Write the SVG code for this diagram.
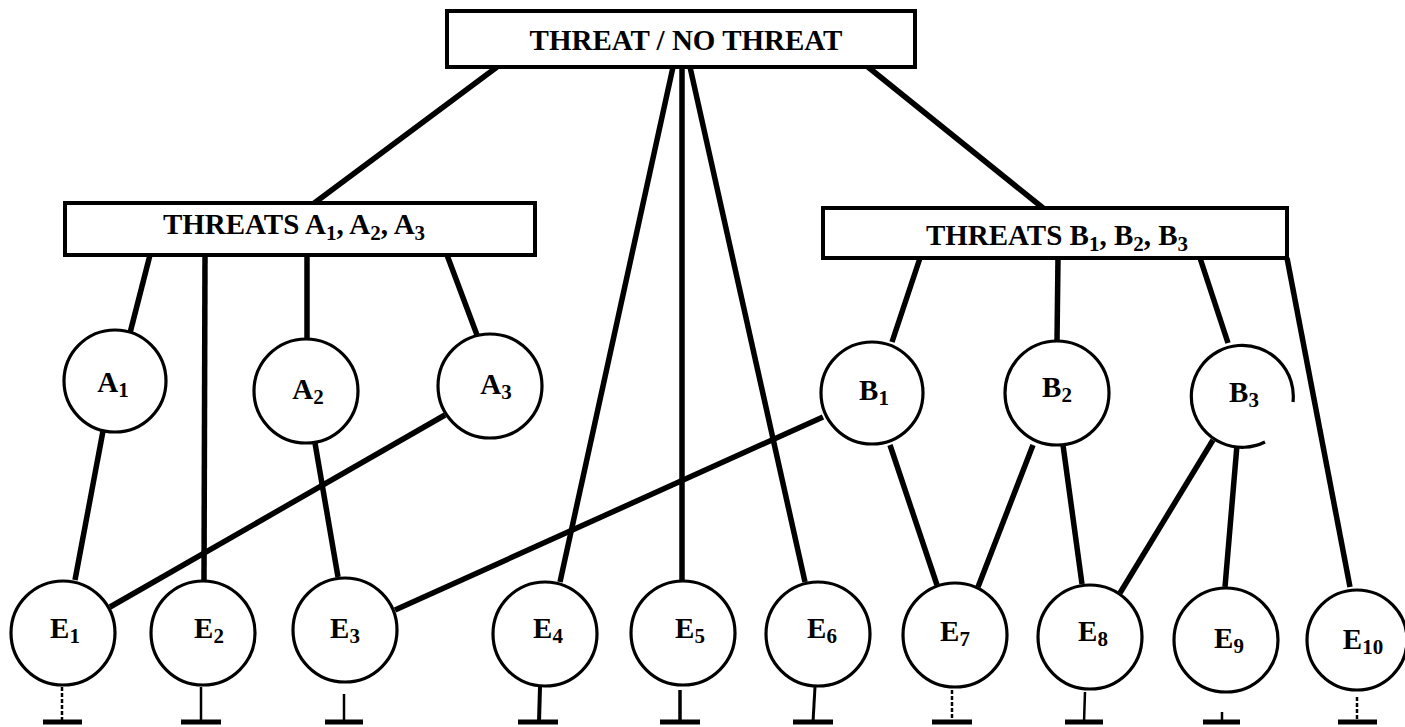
<svg xmlns="http://www.w3.org/2000/svg" width="1405" height="727" viewBox="0 0 1405 727">
<style>
  .box { fill: #fff; stroke: #000; stroke-width: 4; }
  .node { fill: #fff; stroke: #000; stroke-width: 3.2; }
  .conn { stroke: #000; stroke-width: 5.5; stroke-linecap: butt; fill: none; }
  .stem { stroke: #000; stroke-width: 2.5; fill: none; }
  .bar { stroke: #000; stroke-width: 5; fill: none; }
  .bt { font-family: "Liberation Serif", "Times New Roman", serif; font-weight: bold; font-size: 29px; fill: #000; text-anchor: middle; }
  .lt { font-family: "Liberation Serif", "Times New Roman", serif; font-weight: bold; font-size: 29px; fill: #000; text-anchor: middle; }
  .sub { font-size: 21px; }
</style>
<rect width="1405" height="727" fill="#fff"/>
<g id="connectors">
  <line class="conn" x1="497" y1="67" x2="313" y2="204"/>
  <line class="conn" x1="673" y1="67" x2="560" y2="582"/>
  <line class="conn" x1="682" y1="67" x2="682" y2="580"/>
  <line class="conn" x1="690" y1="67" x2="805" y2="582"/>
  <line class="conn" x1="868" y1="67" x2="1043" y2="208"/>
  <line class="conn" x1="150" y1="255" x2="130" y2="333"/>
  <line class="conn" x1="205" y1="255" x2="204" y2="580"/>
  <line class="conn" x1="307" y1="255" x2="307" y2="340"/>
  <line class="conn" x1="447" y1="255" x2="477" y2="335"/>
  <line class="conn" x1="103" y1="431" x2="75" y2="580"/>
  <line class="conn" x1="445" y1="415" x2="110" y2="607"/>
  <line class="conn" x1="315" y1="443" x2="338" y2="577"/>
  <line class="conn" x1="823" y1="417" x2="395" y2="610"/>
  <line class="conn" x1="920" y1="258" x2="892" y2="342"/>
  <line class="conn" x1="1058" y1="258" x2="1057" y2="341"/>
  <line class="conn" x1="1200" y1="258" x2="1228" y2="343"/>
  <line class="conn" x1="1287" y1="258" x2="1350" y2="587"/>
  <line class="conn" x1="890" y1="445" x2="937" y2="585"/>
  <line class="conn" x1="1033" y1="445" x2="978" y2="587"/>
  <line class="conn" x1="1063" y1="445" x2="1082" y2="584"/>
  <line class="conn" x1="1213" y1="440" x2="1120" y2="593"/>
  <line class="conn" x1="1237" y1="445" x2="1225" y2="587"/>
</g>
<g id="grounds">
  <line class="stem" x1="62" y1="687" x2="62" y2="722" stroke-dasharray="4 2"/>
  <line class="bar" x1="43" y1="722" x2="82" y2="722"/>
  <line class="stem" x1="201" y1="687" x2="201" y2="722"/>
  <line class="bar" x1="181" y1="722" x2="221" y2="722"/>
  <line class="stem" x1="344" y1="694" x2="344" y2="722"/>
  <line class="bar" x1="325" y1="722" x2="363" y2="722"/>
  <line class="stem" x1="540" y1="687" x2="539" y2="722" style="stroke-width:4"/>
  <line class="bar" x1="518" y1="722" x2="558" y2="722"/>
  <line class="stem" x1="680" y1="690" x2="680" y2="722" style="stroke-width:3.5"/>
  <line class="bar" x1="660" y1="722" x2="700" y2="722"/>
  <line class="stem" x1="815" y1="687" x2="813" y2="722" style="stroke-width:3"/>
  <line class="bar" x1="793" y1="722" x2="833" y2="722"/>
  <line class="stem" x1="952" y1="690" x2="952" y2="722" stroke-dasharray="4 2"/>
  <line class="bar" x1="932" y1="722" x2="972" y2="722"/>
  <line class="stem" x1="1085" y1="692" x2="1084" y2="722"/>
  <line class="bar" x1="1065" y1="722" x2="1103" y2="722"/>
  <line class="stem" x1="1222" y1="712" x2="1222" y2="722"/>
  <line class="bar" x1="1203" y1="722" x2="1240" y2="722"/>
  <line class="stem" x1="1357" y1="697" x2="1357" y2="722" stroke-dasharray="4 2"/>
  <line class="bar" x1="1338" y1="722" x2="1377" y2="722"/>
</g>
<g id="top">
  <rect class="box" x="447" y="11" width="468" height="56"/>
  <text class="bt" x="686" y="50">THREAT / NO THREAT</text>
</g>
<g id="boxA">
  <rect class="box" x="65" y="203" width="470" height="52"/>
  <text class="bt" x="294" y="234">THREATS A<tspan class="sub" dy="6">1</tspan><tspan dy="-6">, A</tspan><tspan class="sub" dy="6">2</tspan><tspan dy="-6">, A</tspan><tspan class="sub" dy="6">3</tspan></text>
</g>
<g id="boxB">
  <rect class="box" x="823" y="208" width="464" height="50"/>
  <text class="bt" x="1057" y="245">THREATS B<tspan class="sub" dy="6">1</tspan><tspan dy="-6">, B</tspan><tspan class="sub" dy="6">2</tspan><tspan dy="-6">, B</tspan><tspan class="sub" dy="6">3</tspan></text>
</g>
<g id="A1"><circle class="node" cx="115" cy="381" r="51"/><text class="lt" x="113" y="392">A<tspan class="sub" dy="5">1</tspan></text></g>
<g id="A2"><circle class="node" cx="306" cy="391" r="52"/><text class="lt" x="308" y="399">A<tspan class="sub" dy="5">2</tspan></text></g>
<g id="A3"><circle class="node" cx="490" cy="386" r="52"/><text class="lt" x="496" y="394">A<tspan class="sub" dy="5">3</tspan></text></g>
<g id="B1"><circle class="node" cx="872" cy="393" r="51"/><text class="lt" x="874" y="400">B<tspan class="sub" dy="5">1</tspan></text></g>
<g id="B2"><circle class="node" cx="1057" cy="393" r="52"/><text class="lt" x="1057" y="397">B<tspan class="sub" dy="5">2</tspan></text></g>
<g id="B3"><path class="node" d="M1293 402 A51 51 0 1 0 1265 442"/><text class="lt" x="1244" y="402">B<tspan class="sub" dy="5">3</tspan></text></g>
<g id="E1"><circle class="node" cx="63" cy="633" r="52"/><text class="lt" x="65" y="638">E<tspan class="sub" dy="5">1</tspan></text></g>
<g id="E2"><circle class="node" cx="203" cy="633" r="52"/><text class="lt" x="209" y="638">E<tspan class="sub" dy="5">2</tspan></text></g>
<g id="E3"><circle class="node" cx="345" cy="630" r="52"/><text class="lt" x="345" y="638">E<tspan class="sub" dy="5">3</tspan></text></g>
<g id="E4"><circle class="node" cx="545" cy="634" r="52"/><text class="lt" x="548" y="638">E<tspan class="sub" dy="5">4</tspan></text></g>
<g id="E5"><circle class="node" cx="683" cy="633" r="52"/><text class="lt" x="690" y="638">E<tspan class="sub" dy="5">5</tspan></text></g>
<g id="E6"><circle class="node" cx="818" cy="634" r="52"/><text class="lt" x="822" y="638">E<tspan class="sub" dy="5">6</tspan></text></g>
<g id="E7"><circle class="node" cx="955" cy="635" r="52"/><text class="lt" x="955" y="641">E<tspan class="sub" dy="5">7</tspan></text></g>
<g id="E8"><circle class="node" cx="1090" cy="637" r="52"/><text class="lt" x="1093" y="641">E<tspan class="sub" dy="5">8</tspan></text></g>
<g id="E9"><circle class="node" cx="1226" cy="640" r="52"/><text class="lt" x="1229" y="648">E<tspan class="sub" dy="5">9</tspan></text></g>
<g id="E10"><circle class="node" cx="1357" cy="640" r="50"/><text class="lt" x="1363" y="649">E<tspan class="sub" dy="5">10</tspan></text></g>
</svg>
